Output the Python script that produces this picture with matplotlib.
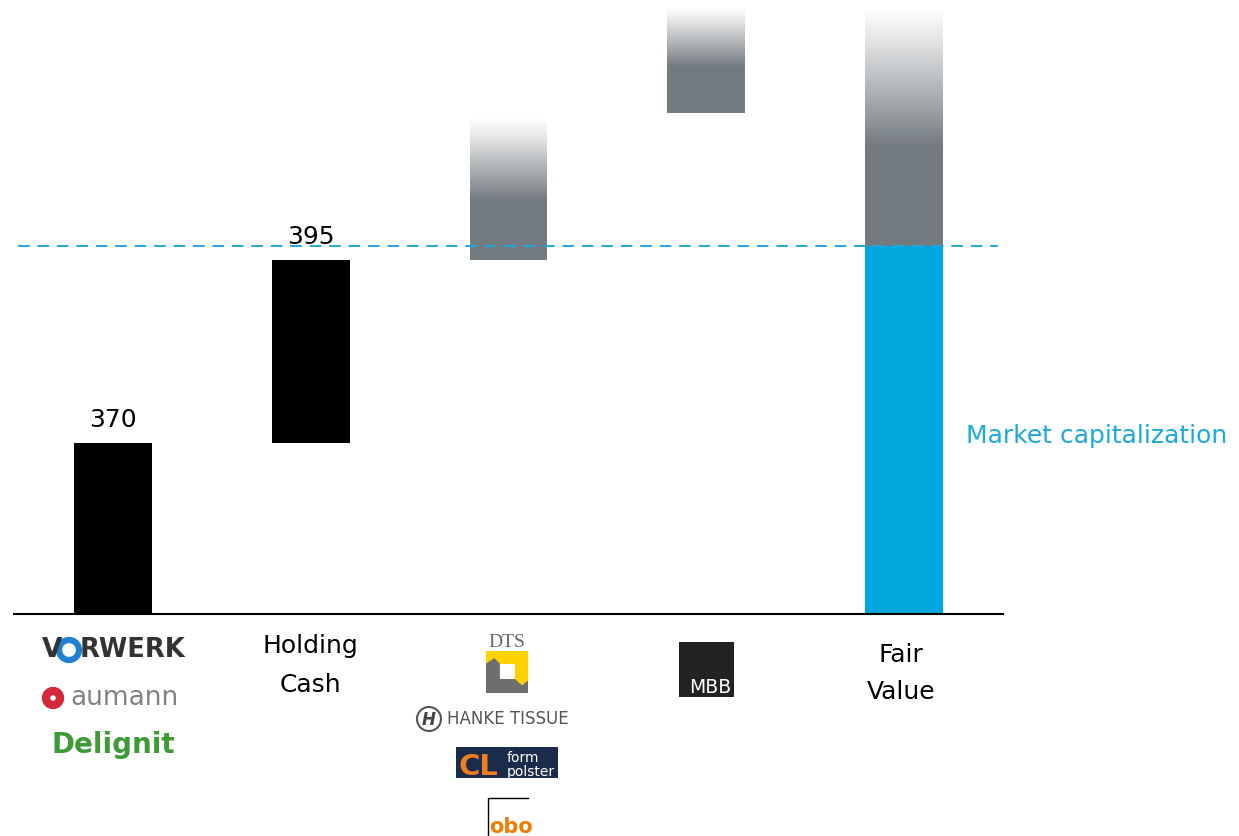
import matplotlib.pyplot as plt
import numpy as np
from matplotlib.patches import Rectangle, Polygon, Circle

W, H = 1239, 836

# waterfall values (EUR m)
bar_pos = [0, 1, 2, 3, 4]
bar_bottom = [0, 370, 765, 1081, 794]
bar_solid_top = [370, 765, 893, 1180, 1008]
bar_fade_top = [None, None, 1070, 1310, 1310]
bar_color = ["black", "black", "#737a80", "#737a80", "#737a80"]
value_labels = ["370", "395"]
market_cap = 794

BLUE = "#00a8e0"


def fade_bar(ax, x, width, y0, y1, color, n=80):
    """Block that fades out towards the top, drawn as thin slices."""
    edges = np.linspace(y0, y1, n + 1)
    alphas = np.linspace(1.0, 0.0, n) ** 1.1
    for lo, hi, a in zip(edges[:-1], edges[1:], alphas):
        ax.bar(x, hi - lo, bottom=lo, width=width, color=color, alpha=a,
               linewidth=0, zorder=2)


fig = plt.figure(figsize=(W / 100, H / 100), dpi=100)
ax = fig.add_axes([14 / W, 222 / H, (1003 - 14) / W, 614 / H])

width = 0.394
# fair value: blue part up to market cap
ax.bar(bar_pos[4], market_cap, width=width, color=BLUE, zorder=2)
for i in bar_pos:
    ax.bar(bar_pos[i], bar_solid_top[i] - bar_bottom[i], bottom=bar_bottom[i],
           width=width, color=bar_color[i], linewidth=0, zorder=2)
    if bar_fade_top[i] is not None:
        fade_bar(ax, bar_pos[i], width, bar_solid_top[i], bar_fade_top[i], bar_color[i])

for i, lab in enumerate(value_labels):
    ax.annotate(lab, (bar_pos[i], bar_solid_top[i]), xytext=(0, 11),
                textcoords="offset points", ha="center", va="baseline",
                fontsize=18, color="black")

ax.axhline(market_cap, xmin=0.004, xmax=0.995, color="#1ea8dc", lw=1.4,
           ls=(0, (6, 4)), zorder=3)

ax.set_xlim(-0.5, 4.5)
ax.set_ylim(0, 1325)
for s in ["top", "right", "left"]:
    ax.spines[s].set_visible(False)
ax.spines["bottom"].set_linewidth(1.5)
ax.set_xticks([])
ax.set_yticks([])

# overlay in pixel coordinates for labels and logos
ov = fig.add_axes([0, 0, 1, 1])
ov.set_xlim(0, W)
ov.set_ylim(H, 0)
ov.axis("off")

ov.text(966, 436, "Market capitalization", color="#1aa9e0", fontsize=18,
        ha="left", va="center")

ov.text(310, 646, "Holding", fontsize=18, ha="center", va="center")
ov.text(310, 685, "Cash", fontsize=18, ha="center", va="center")
ov.text(901, 655, "Fair", fontsize=18, ha="center", va="center")
ov.text(901, 692, "Value", fontsize=18, ha="center", va="center")

# Vorwerk
ov.text(42, 657, "V", fontsize=19, fontweight="heavy", color="#333333",
        ha="left", va="baseline")
ov.add_patch(Circle((69, 650), 10, facecolor="white", edgecolor="#1f7fd0", lw=4.5))
ov.text(80, 657, "RWERK", fontsize=18.5, fontweight="heavy", color="#333333",
        ha="left", va="baseline")
# aumann
ov.add_patch(Circle((53, 698), 7, facecolor="white", edgecolor="#d6283c", lw=6))
ov.text(70, 705, "aumann", fontsize=19, color="#808285", ha="left", va="baseline")
# Delignit
ov.text(51, 753, "Delignit", fontsize=20, fontweight="bold", color="#3d9b35",
        ha="left", va="baseline")

# DTS
ov.text(507, 647, "DTS", fontsize=14, family="Liberation Serif", color="#666666",
        ha="center", va="baseline")
x0, y0, s = 486, 651, 42
ov.add_patch(Rectangle((x0, y0), s, s, facecolor="#ffd200", edgecolor="none"))
gray_shape = [(0, 0.3), (0.2, 0.17), (0.33, 0.3), (0.33, 0.66), (0.68, 0.66),
              (0.86, 0.82), (1, 0.7), (1, 1), (0, 1)]
ov.add_patch(Polygon([(x0 + u * s, y0 + v * s) for u, v in gray_shape],
                     facecolor="#6d6e70", edgecolor="none"))
ov.add_patch(Rectangle((x0 + 0.33 * s, y0 + 0.3 * s), 0.35 * s, 0.36 * s,
                       facecolor="white", edgecolor="none"))

# Hanke Tissue
ov.add_patch(Circle((429, 719), 12, facecolor="white", edgecolor="#555555", lw=1.5))
ov.text(429, 720, "H", fontsize=12, fontweight="bold", style="italic",
        color="#444444", ha="center", va="center")
ov.text(447, 719, "HANKE TISSUE", fontsize=12, color="#555555", ha="left",
        va="center")

# CL formpolster
ov.add_patch(Rectangle((456, 747), 102, 31, facecolor="#1b2b4b", edgecolor="none"))
ov.text(458, 775, "CL", fontsize=21, fontweight="heavy", color="#f07d1e",
        ha="left", va="baseline")
ov.text(507, 762, "form", fontsize=10, color="white", ha="left", va="baseline")
ov.text(507, 776, "polster", fontsize=10, color="white", ha="left", va="baseline")

# obo
ov.plot([487.5, 487.5, 528], [836, 798, 798], color="black", lw=1)
ov.text(489, 833, "obo", fontsize=15, fontweight="bold", color="#f07d00",
        ha="left", va="baseline")

# MBB
ov.add_patch(Rectangle((679, 642), 55, 55, facecolor="#222222", edgecolor="none"))
ov.text(731, 693, "MBB", fontsize=13.5, color="white", ha="right", va="baseline")

fig.savefig("out.png", dpi=100)
